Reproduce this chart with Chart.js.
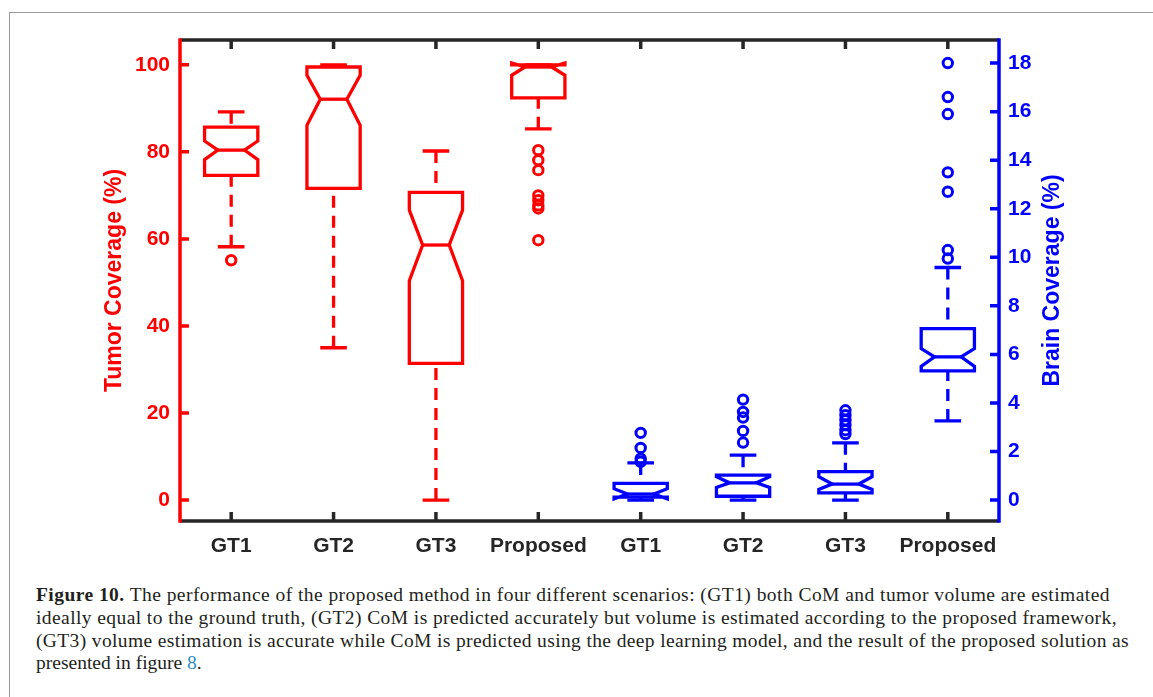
<!DOCTYPE html>
<html>
<head>
<meta charset="utf-8">
<script src="https://cdn.jsdelivr.net/npm/chart.js@4.4.0/dist/chart.umd.min.js"></script>
<style>
html, body { margin: 0; padding: 0; background: #fff; overflow: hidden; }
#frame { position: absolute; left: 9px; top: 12px; width: 1300px; height: 800px; border-top: 1px solid #999; border-left: 1px solid #999; }
#wrap { position: absolute; left: 0; top: 0; width: 1153px; height: 570px; }
#caption { position: absolute; left: 36px; top: 584px; font-family: 'Liberation Serif', 'Times New Roman', serif; font-size: 19.5px; line-height: 22.8px; color: #231f20; white-space: nowrap; }
#caption .ln { display: block; width: max-content; }
#caption .ref { color: #2a8cc8; }
</style>
</head>
<body>
<div id="frame"></div>
<div id="wrap"><canvas id="chart" width="1153" height="570"></canvas></div>
<div id="caption">
<div class="ln"><b>Figure 10.</b> The performance of the proposed method in four different scenarios: (GT1) both CoM and tumor volume are estimated</div>
<div class="ln">ideally equal to the ground truth, (GT2) CoM is predicted accurately but volume is estimated according to the proposed framework,</div>
<div class="ln">(GT3) volume estimation is accurate while CoM is predicted using the deep learning model, and the result of the proposed solution as</div>
<div class="ln">presented in figure <span class="ref">8</span>.</div>
</div>
<script>
var categories = ['GT1', 'GT2', 'GT3', 'Proposed', 'GT1', 'GT2', 'GT3', 'Proposed'];
var tumorTicks = [0, 20, 40, 60, 80, 100];
var brainTicks = [0, 2, 4, 6, 8, 10, 12, 14, 16, 18];

// tumor coverage (left axis), categories 0..3
var tumorLow = [58.2, 35.0, 0.0, 85.3];
var tumorQ1 = [74.6, 71.6, 31.4, 92.4];
var tumorNotchLow = [78.2, 86.1, 50.4, 97.6];
var tumorMedian = [80.4, 92.1, 58.6, 99.5];
var tumorNotchHigh = [82.5, 97.6, 66.6, 100.4];
var tumorQ3 = [85.7, 99.5, 70.7, 100.0];
var tumorHigh = [89.2, 100.0, 80.2, 100.0];
var tumorOutliers = [[55.1], [], [], [80.4, 78.1, 75.8, 70.0, 68.9, 67.7, 67.0, 59.7]];

// brain coverage (right axis), categories 4..7
var brainLow = [0.0, 0.0, 0.0, 3.26];
var brainQ1 = [0.12, 0.16, 0.30, 5.32];
var brainNotchLow = [0.05, 0.52, 0.44, 5.51];
var brainMedian = [0.25, 0.71, 0.66, 5.90];
var brainNotchHigh = [0.47, 0.96, 0.96, 6.24];
var brainQ3 = [0.69, 1.03, 1.17, 7.06];
var brainHigh = [1.53, 1.85, 2.36, 9.58];
var brainOutliers = [[1.58, 1.71, 2.15, 2.77], [2.37, 2.85, 3.40, 3.63, 4.14], [2.72, 2.88, 3.09, 3.29, 3.50, 3.70], [9.95, 10.3, 12.7, 13.5, 15.9, 16.6, 18.0]];

var RED = '#ff0000';
var BLUE = '#0000ff';
var DARK = '#262626';
var FONT = 'Liberation Sans, Arial, sans-serif';
var BOX_HALF = 0.26;

function outlierPoints(groups, first) {
	var pts = [];
	for (var i = 0; i < groups.length; i++) {
		for (var j = 0; j < groups[i].length; j++) {
			pts.push({ x: first + i, y: groups[i][j] });
		}
	}
	return pts;
}

function drawBoxes(ctx, xs, ys, first, st, color) {
	ctx.save();
	ctx.strokeStyle = color;
	ctx.lineWidth = 3.3;
	for (var i = 0; i < st.q1.length; i++) {
		var cx = xs.getPixelForValue(first + i);
		var hw = xs.getPixelForValue(first + i + BOX_HALF) - cx;
		var lo = ys.getPixelForValue(st.lo[i]), q1 = ys.getPixelForValue(st.q1[i]);
		var nlo = ys.getPixelForValue(st.nlo[i]), med = ys.getPixelForValue(st.med[i]);
		var nhi = ys.getPixelForValue(st.nhi[i]), q3 = ys.getPixelForValue(st.q3[i]);
		var hi = ys.getPixelForValue(st.hi[i]);

		// dashed whiskers
		ctx.setLineDash([12, 8]);
		ctx.beginPath();
		ctx.moveTo(cx, lo); ctx.lineTo(cx, q1);
		ctx.moveTo(cx, hi); ctx.lineTo(cx, q3);
		ctx.stroke();
		ctx.setLineDash([]);

		// caps
		ctx.beginPath();
		ctx.moveTo(cx - hw / 2, lo); ctx.lineTo(cx + hw / 2, lo);
		ctx.moveTo(cx - hw / 2, hi); ctx.lineTo(cx + hw / 2, hi);
		ctx.stroke();

		// notched box
		ctx.beginPath();
		ctx.moveTo(cx - hw, q1);
		ctx.lineTo(cx - hw, nlo);
		ctx.lineTo(cx - hw / 2, med);
		ctx.lineTo(cx - hw, nhi);
		ctx.lineTo(cx - hw, q3);
		ctx.lineTo(cx + hw, q3);
		ctx.lineTo(cx + hw, nhi);
		ctx.lineTo(cx + hw / 2, med);
		ctx.lineTo(cx + hw, nlo);
		ctx.lineTo(cx + hw, q1);
		ctx.closePath();
		ctx.stroke();

		// median
		ctx.beginPath();
		ctx.moveTo(cx - hw / 2, med); ctx.lineTo(cx + hw / 2, med);
		ctx.stroke();
	}
	ctx.restore();
}

var boxPlugin = {
	id: 'notchedBoxes',
	beforeDatasetsDraw: function (chart) {
		var ctx = chart.ctx;
		var xs = chart.scales.x;
		drawBoxes(ctx, xs, chart.scales.y, 0, {
			lo: tumorLow, q1: tumorQ1, nlo: tumorNotchLow, med: tumorMedian,
			nhi: tumorNotchHigh, q3: tumorQ3, hi: tumorHigh
		}, RED);
		drawBoxes(ctx, xs, chart.scales.y2, 4, {
			lo: brainLow, q1: brainQ1, nlo: brainNotchLow, med: brainMedian,
			nhi: brainNotchHigh, q3: brainQ3, hi: brainHigh
		}, BLUE);
	},
	afterDraw: function (chart) {
		// axis lines with inward ticks, like the matlab box
		var ctx = chart.ctx;
		var a = chart.chartArea;
		var xs = chart.scales.x, yl = chart.scales.y, yr = chart.scales.y2;
		var tl = 9;
		ctx.save();
		ctx.lineWidth = 3.5;
		ctx.lineCap = 'butt';

		ctx.strokeStyle = DARK;
		ctx.beginPath();
		ctx.moveTo(a.left, a.top); ctx.lineTo(a.right, a.top);
		ctx.moveTo(a.left, a.bottom); ctx.lineTo(a.right, a.bottom);
		for (var i = 0; i < xs.ticks.length; i++) {
			var px = xs.getPixelForValue(xs.ticks[i].value);
			ctx.moveTo(px, a.top); ctx.lineTo(px, a.top + tl);
			ctx.moveTo(px, a.bottom); ctx.lineTo(px, a.bottom - tl);
		}
		ctx.stroke();

		ctx.strokeStyle = RED;
		ctx.beginPath();
		ctx.moveTo(a.left, a.top - 1.75); ctx.lineTo(a.left, a.bottom + 1.75);
		for (var j = 0; j < yl.ticks.length; j++) {
			var py = yl.getPixelForValue(yl.ticks[j].value);
			ctx.moveTo(a.left, py); ctx.lineTo(a.left + tl, py);
		}
		ctx.stroke();

		ctx.strokeStyle = BLUE;
		ctx.beginPath();
		ctx.moveTo(a.right, a.top - 1.75); ctx.lineTo(a.right, a.bottom + 1.75);
		for (var k = 0; k < yr.ticks.length; k++) {
			var qy = yr.getPixelForValue(yr.ticks[k].value);
			ctx.moveTo(a.right, qy); ctx.lineTo(a.right - tl, qy);
		}
		ctx.stroke();

		// right axis title reads bottom to top, same as the left one
		ctx.translate(1053, (a.top + a.bottom) / 2);
		ctx.rotate(-Math.PI / 2);
		ctx.fillStyle = BLUE;
		ctx.font = 'bold 23px ' + FONT;
		ctx.textAlign = 'center';
		ctx.textBaseline = 'middle';
		ctx.fillText('Brain Coverage (%)', 0, 0);
		ctx.restore();
	}
};

var tickFont = { family: FONT, size: 21, weight: 'bold' };
var titleFont = { family: FONT, size: 23, weight: 'bold' };

var config = {
	type: 'scatter',
	data: {
		datasets: [{
			label: 'Tumor outliers',
			data: outlierPoints(tumorOutliers, 0),
			yAxisID: 'y',
			borderColor: RED,
			backgroundColor: 'rgba(0,0,0,0)',
			pointRadius: 4.7,
			pointBorderWidth: 3
		}, {
			label: 'Brain outliers',
			data: outlierPoints(brainOutliers, 4),
			yAxisID: 'y2',
			borderColor: BLUE,
			backgroundColor: 'rgba(0,0,0,0)',
			pointRadius: 4.7,
			pointBorderWidth: 3
		}]
	},
	options: {
		responsive: false,
		animation: false,
		events: [],
		layout: { padding: { top: 40, left: 0, right: 0, bottom: 0 } },
		plugins: { legend: { display: false }, tooltip: { enabled: false } },
		scales: {
			x: {
				type: 'linear',
				position: 'bottom',
				min: -0.5,
				max: 7.5,
				afterBuildTicks: function (s) {
					s.ticks = categories.map(function (c, i) { return { value: i }; });
				},
				afterFit: function (s) { s.height = 49; },
				ticks: {
					autoSkip: false,
					maxRotation: 0,
					padding: 13,
					color: DARK,
					font: tickFont,
					callback: function (v) { return categories[v]; }
				},
				grid: { display: false, drawTicks: false },
				border: { display: false }
			},
			y: {
				position: 'left',
				min: -4.8,
				max: 105.7,
				afterBuildTicks: function (s) {
					s.ticks = tumorTicks.map(function (v) { return { value: v }; });
				},
				afterFit: function (s) { s.width = 180; },
				ticks: { padding: 10, color: RED, font: tickFont },
				grid: { display: false, drawTicks: false },
				border: { display: false },
				title: { display: true, text: 'Tumor Coverage (%)', color: RED, font: titleFont, padding: { top: 101, bottom: 0 } }
			},
			y2: {
				position: 'right',
				min: -0.86,
				max: 18.95,
				afterBuildTicks: function (s) {
					s.ticks = brainTicks.map(function (v) { return { value: v }; });
				},
				afterFit: function (s) { s.width = 154; },
				ticks: { padding: 9, color: BLUE, font: tickFont },
				grid: { display: false, drawTicks: false },
				border: { display: false }
			}
		}
	},
	plugins: [boxPlugin]
};

var chart = new Chart(document.getElementById('chart'), config);

// fit caption lines to the widths in the figure
var capTargets = [1074, 1081, 1093];
var lines = document.querySelectorAll('#caption .ln');
for (var n = 0; n < capTargets.length; n++) {
	var w = lines[n].getBoundingClientRect().width;
	lines[n].style.letterSpacing = ((capTargets[n] - w) / lines[n].textContent.length) + 'px';
}
</script>
</body>
</html>
